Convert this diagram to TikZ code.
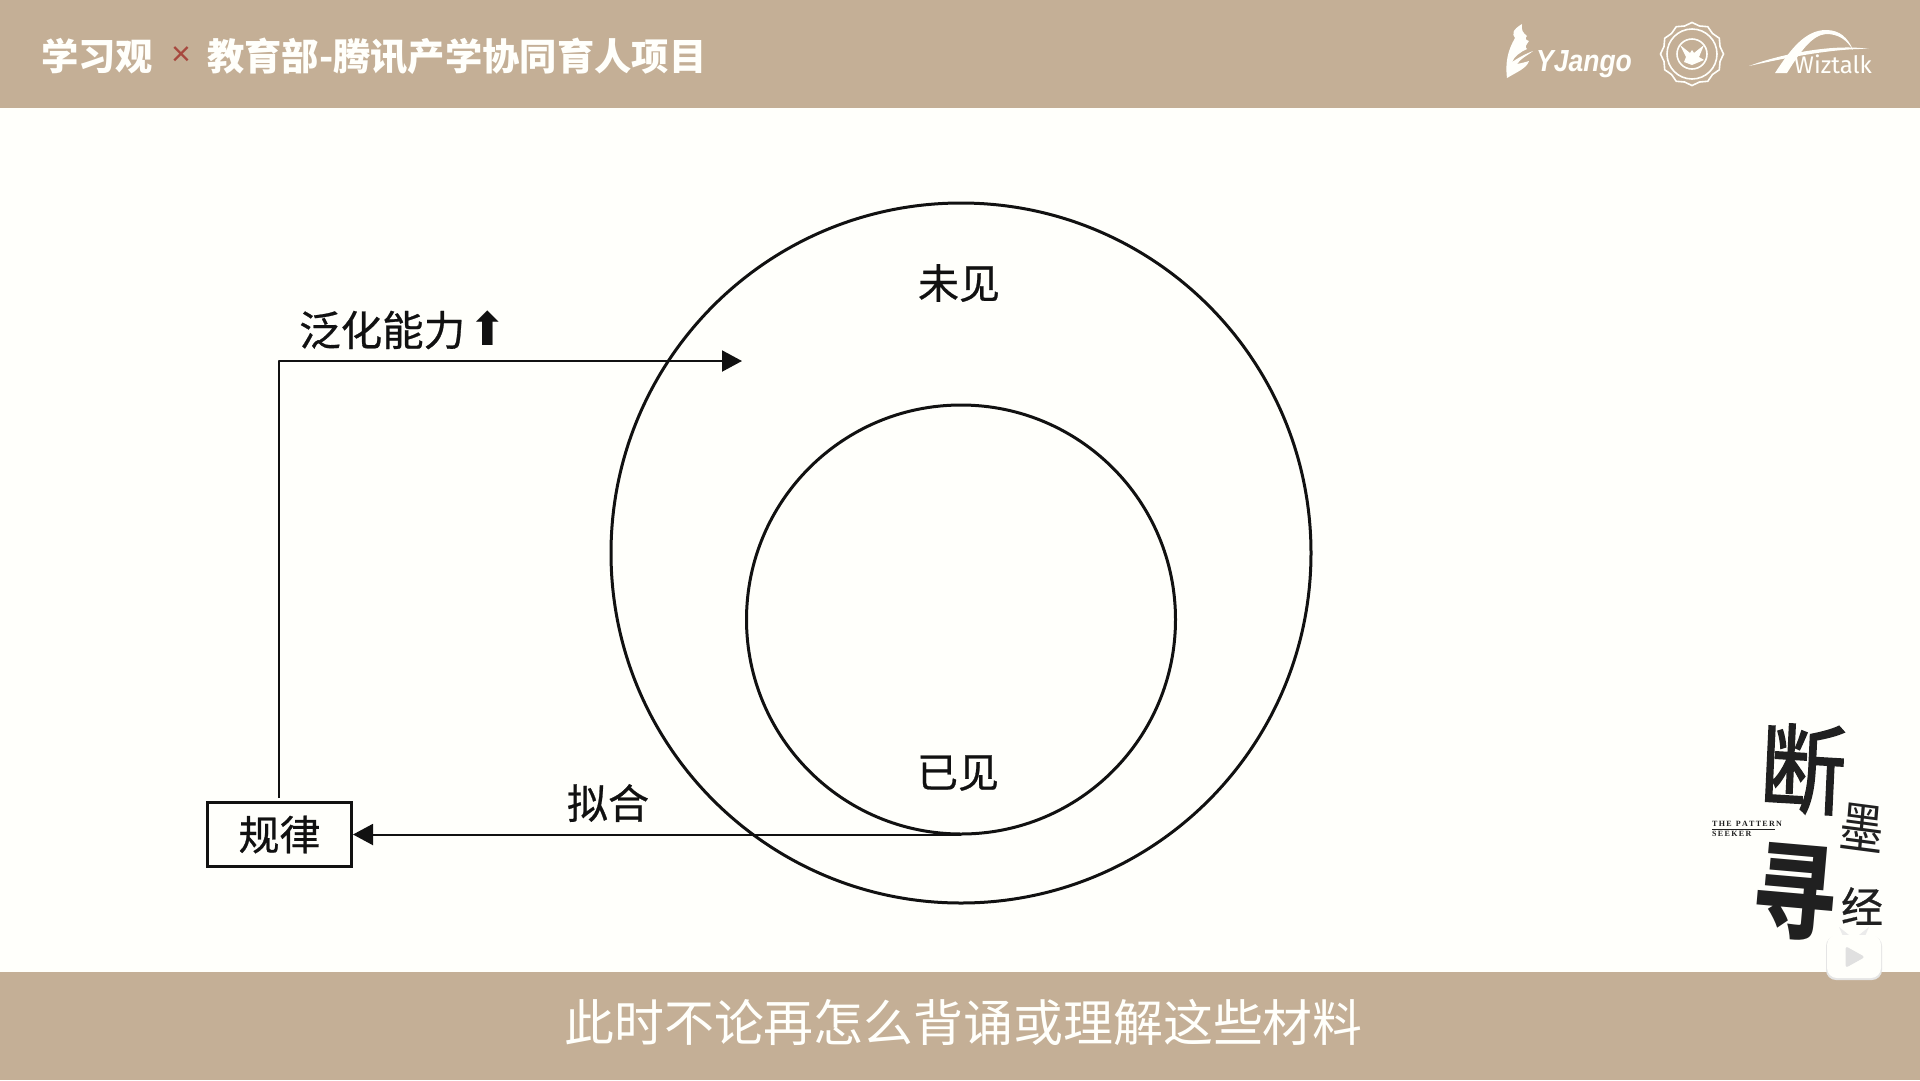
\documentclass[tikz,border=0pt]{standalone}
\usepackage{fontspec}
\usetikzlibrary{arrows.meta}
\newfontfamily\cjk{Noto Sans CJK SC}
\newfontfamily\cjkm[FakeBold=0.6]{Noto Sans CJK SC}
\newfontfamily\cjkh[FakeBold=1.8]{Noto Sans CJK SC}
\newfontfamily\dejavu{DejaVu Sans}
\newfontfamily\lsans{Liberation Sans}
\newfontfamily\lserif{Liberation Serif}
\newfontfamily\fira{Fira Sans}
\newcommand{\fs}[1]{\fontsize{#1}{#1}\selectfont}
\definecolor{band}{HTML}{C4AF96}
\definecolor{paper}{HTML}{FFFFFB}
\definecolor{ink}{HTML}{111111}
\definecolor{brush}{HTML}{202020}
\tikzset{
  ring/.style={circle,draw=ink,line width=3pt,inner sep=0pt},
  label/.style={inner sep=0pt,text=ink,font=\cjkm\fs{41}},
  conn/.style={draw=ink,line width=2pt,line join=round,-{Triangle[length=20pt,width=21pt]}},
  boxed/.style={draw=ink,line width=3pt,inner sep=0pt,minimum width=144pt,minimum height=64pt,font=\cjkm\fs{41},text=ink},
  head/.style={inner sep=0pt,text=paper,anchor=west,font=\cjk\bfseries\fs{37.3}},
  callig/.style={inner sep=0pt,text=brush},
  logo/.style={fill=paper,draw=none},
  logoline/.style={draw=paper,line width=1.6pt,fill=none}
}
\begin{document}
\begin{tikzpicture}[x=1pt,y=-1pt]
\useasboundingbox (0,0) rectangle (1920,1080);
\fill[paper] (0,0) rectangle (1920,1080);
\fill[band] (0,0) rectangle (1920,108);
\fill[band] (0,972) rectangle (1920,1080);

% header
\node[head] (t1) at (41,56) {学习观};
\node[inner sep=0pt,text=red!45!band!75!black,font=\lsans\fs{34}] (tx) at (181,56) {×};
\node[head] (t2) at (207,56) {教育部-腾讯产学协同育人项目};

% circles
\node[ring,minimum size=700pt] (outer) at (961,553) {};
\node[ring,minimum size=429pt] (inner) at (961,619.5) {};
\node[label] (unseen) at (959,283) {未见};
\node[label] (seen) at (958,773) {已见};

% box and connectors
\node[boxed] (rule) at (279.5,834.5) {规律};
\coordinate (gen) at (742,361);
\draw[conn] ([xshift=-1pt,yshift=3pt]rule.north) |- (gen);
\draw[conn] ([yshift=1pt]inner.south) -- ([yshift=1pt]inner.south -| rule.east);
\node[label,font=\cjkm\fs{41.5},anchor=west] (genlab) at (299,330) {泛化能力\hspace{3pt}{\dejavu\fs{46}⬆}};
\node[label] (fit) at (608,803) {拟合};

% subtitle
\node[inner sep=0pt,text=paper,font=\cjk\fs{49.9}] (sub) at (963.5,1022) {此时不论再怎么背诵或理解这些材料};

% YJango logo
\fill[logo] (1507,78) .. controls (1505,62) and (1508,50) .. (1515,38)
  .. controls (1512,34) and (1512,30) .. (1522,24)
  .. controls (1521,30) and (1523,33) .. (1527,36)
  .. controls (1525,38) and (1525,40) .. (1529,41)
  .. controls (1527,44) and (1524,47) .. (1527,49)
  .. controls (1520,52) and (1514,57) .. (1512,62)
  .. controls (1518,58) and (1525,54) .. (1533,51)
  .. controls (1527,56) and (1521,58) .. (1517,64)
  .. controls (1522,63) and (1526,62) .. (1529,61)
  .. controls (1527,68) and (1517,72) .. (1507,78) -- cycle;
\node[inner sep=0pt,text=paper,anchor=west,yscale=1.15,font=\lsans\bfseries\itshape\fs{26.5}] (yj) at (1536,64) {YJango};

% seal logo
\begin{scope}[shift={(1692,54)}]
\draw[logoline] (0:31.5) -- (15:29) -- (30:31.5) -- (45:29) -- (60:31.5) -- (75:29) -- (90:31.5) -- (105:29) -- (120:31.5) -- (135:29) -- (150:31.5) -- (165:29) -- (180:31.5) -- (195:29) -- (210:31.5) -- (225:29) -- (240:31.5) -- (255:29) -- (270:31.5) -- (285:29) -- (300:31.5) -- (315:29) -- (330:31.5) -- (345:29) -- cycle;
\draw[logoline] (0,0) circle (25);
\draw[logoline] (0,0) circle (15);
\fill[logo] (-12,-9) -- (-2,-1) -- (0,-4) -- (2,-1) -- (12,-9) -- (7,3) -- (12,6) -- (0,11) -- (-8,8) -- (-6,3) -- cycle;
\end{scope}

% Wiztalk logo
\fill[logo] (1749,66) .. controls (1775,56) and (1830,43) .. (1869,49)
  .. controls (1835,48) and (1785,58) .. (1749,66) -- cycle;
\fill[logo] (1775,73) .. controls (1790,50) and (1805,30) .. (1826,30)
  .. controls (1840,30) and (1848,38) .. (1853,50)
  .. controls (1846,39) and (1838,34) .. (1826,34)
  .. controls (1812,35) and (1800,52) .. (1787,73) -- cycle;
\node[inner sep=0pt,text=paper,anchor=west,font=\fira\fs{24}] (wz) at (1794,64) {Wiztalk};

% calligraphic mark
\node[callig,font=\cjkh\fs{86},yscale=1.12,rotate=-3] (c1) at (1803,769) {断};
\node[callig,font=\cjk\fs{44},yscale=1.25,rotate=-6] (c2) at (1862,828) {墨};
\node[callig,font=\cjk\bfseries\fs{94},rotate=-5,xscale=.9,yscale=1.12] (c3) at (1795,892) {寻};
\node[callig,font=\cjkm\fs{42}] (c4) at (1862,906) {经};
\node[inner sep=0pt,anchor=west,text=brush,font=\lserif\bfseries\fs{8}] (p1) at (1712,824) {T\,H\,E\ \ P\,A\,T\,T\,E\,R\,N};
\node[inner sep=0pt,anchor=west,text=brush,font=\lserif\bfseries\fs{8}] (p2) at (1712,834) {S\,E\,E\,K\,E\,R};
\draw[brush,line width=.8pt] (1712,829.5) -- (1775,829.5);

% play badge
\fill[black!8] (1843,936) -- (1839,927) -- (1849,935) -- cycle;
\fill[black!8] (1865,936) -- (1869,927) -- (1859,935) -- cycle;
\fill[black!10,rounded corners=10pt] (1826,936) rectangle (1882,980);
\fill[paper,rounded corners=10pt] (1827,935) rectangle (1881,978);
\fill[black!12,rounded corners=2pt,draw=black!12,line width=1pt] (1846,947) -- (1864,957) -- (1846,967) -- cycle;
\end{tikzpicture}
\end{document}
